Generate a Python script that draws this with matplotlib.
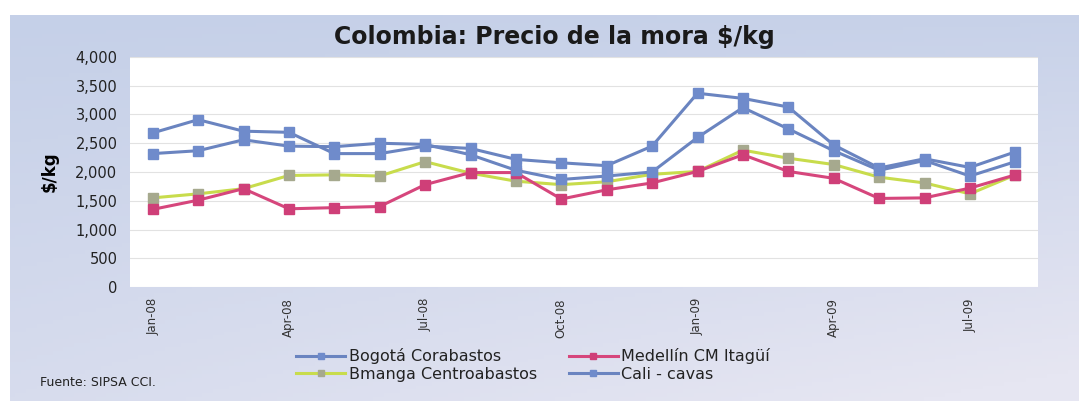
import numpy as np
import matplotlib
matplotlib.use("Agg")
import matplotlib.pyplot as plt

plt.rcParams['font.family'] = ['DejaVu Sans']

# Data (monthly, Jan-08 .. Aug-09)
months = ['Jan-08', 'Feb-08', 'Mar-08', 'Apr-08', 'May-08', 'Jun-08', 'Jul-08', 'Aug-08',
          'Sep-08', 'Oct-08', 'Nov-08', 'Dec-08', 'Jan-09', 'Feb-09', 'Mar-09', 'Apr-09',
          'May-09', 'Jun-09', 'Jul-09', 'Aug-09']
bogota = [2680, 2910, 2710, 2690, 2320, 2320, 2450, 2410, 2220, 2160,
          2110, 2450, 3370, 3280, 3130, 2470, 2070, 2230, 2080, 2350]
medellin = [1350, 1510, 1710, 1360, 1380, 1400, 1780, 1990, 1990, 1530,
            1690, 1810, 2010, 2300, 2010, 1890, 1540, 1550, 1720, 1950]
bmanga = [1550, 1620, 1710, 1940, 1950, 1930, 2180, 1980, 1840, 1780,
          1830, 1960, 2010, 2380, 2240, 2130, 1910, 1810, 1620, 1950]
cali = [2320, 2370, 2560, 2450, 2440, 2500, 2480, 2300, 2030, 1870,
        1930, 2000, 2600, 3120, 2750, 2370, 2030, 2200, 1930, 2180]
tick_idx = [0, 3, 6, 9, 12, 15, 18]

fig = plt.figure(figsize=(10.79, 4.01), dpi=100)

# background panel with soft gradient
bg = fig.add_axes([0, 0, 1, 1], zorder=-10)
ny, nx = 100, 200
yy, xx = np.mgrid[0:1:ny * 1j, 0:1:nx * 1j]
t = np.clip(0.55 * yy + 0.45 * xx * yy + 0.25 * xx * 0.3, 0, 1)
top = np.array([197, 208, 232]) / 255
bot = np.array([230, 230, 242]) / 255
img = top[None, None, :] * (1 - t[..., None]) + bot[None, None, :] * t[..., None]
bg.imshow(img, extent=[10 / 1079, 1, 0, 1 - 15 / 401], aspect='auto', origin='upper')
bg.set_xlim(0, 1)
bg.set_ylim(0, 1)
bg.axis('off')

ax = fig.add_axes([130 / 1079, 1 - 287 / 401, 908 / 1079, 230 / 401])
ax.set_facecolor('white')
x = np.arange(len(months))

blue = '#6a84c0'
ax.plot(x, bogota, color=blue, lw=2.2, marker='s', ms=7, mfc='#6f8bcb', mec='#6f8bcb',
        label='Bogotá Corabastos')
ax.plot(x, bmanga, color='#c8dc4c', lw=2.2, marker='s', ms=7, mfc='#a6a98e', mec='#a6a98e',
        label='Bmanga Centroabastos')
ax.plot(x, medellin, color='#d6467c', lw=2.2, marker='s', ms=7, mfc='#cf3f78', mec='#cf3f78',
        label='Medellín CM Itagüí')
ax.plot(x, cali, color=blue, lw=2.2, marker='s', ms=7, mfc='#6f8bcb', mec='#6f8bcb',
        label='Cali - cavas')

ax.set_xlim(-0.5, len(months) - 0.5)
ax.set_ylim(0, 4000)
ax.set_yticks(range(0, 4001, 500))
ax.set_yticklabels([f'{v:,}' for v in range(0, 4001, 500)], fontsize=10.5, color='#222222')
ax.set_xticks(tick_idx)
ax.set_xticklabels([months[i] for i in tick_idx], rotation=90, fontsize=8.5, color='#333333')
ax.tick_params(axis='y', length=0, pad=9)
ax.tick_params(axis='x', length=0, pad=8)
ax.grid(axis='y', color='#e2e2e2', lw=0.8)
ax.set_axisbelow(True)
for s in ax.spines.values():
    s.set_visible(False)

ax.set_ylabel('$/kg', fontsize=12, fontweight='bold', labelpad=12)

fig.text(554 / 1079, 1 - 37 / 401, 'Colombia: Precio de la mora $/kg',
         ha='center', va='center', fontsize=17, fontweight='bold', color='#1a1a1a')

leg = fig.legend(loc='center', bbox_to_anchor=(533 / 1079, 1 - 365 / 401), ncol=2,
                 frameon=False, fontsize=11.5, handlelength=3.1, columnspacing=2.0,
                 handletextpad=0.2, labelspacing=0.15, markerscale=0.7,
                 borderpad=0, borderaxespad=0)
for tx in leg.get_texts():
    tx.set_color('#222222')

fig.text(40 / 1079, 1 - 383 / 401, 'Fuente: SIPSA CCI.', fontsize=9, color='#222222',
         va='center')

fig.savefig('out.png', dpi=100)
